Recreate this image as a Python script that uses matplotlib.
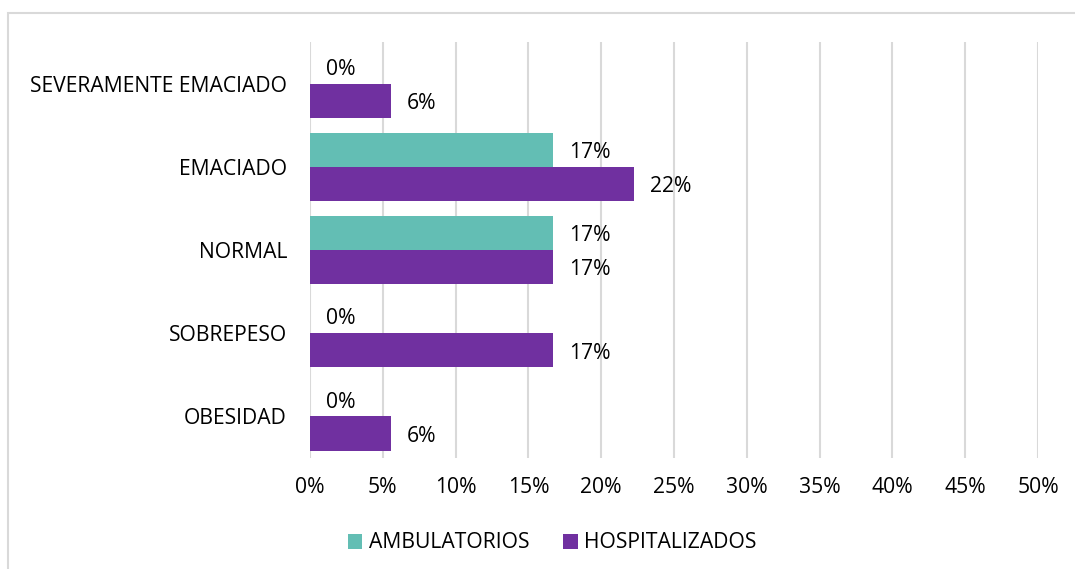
import numpy as np
import matplotlib.pyplot as plt
from matplotlib.patches import Rectangle

plt.rcParams['font.family'] = ['Open Sans', 'DejaVu Sans']

categorias = ['SEVERAMENTE EMACIADO', 'EMACIADO', 'NORMAL', 'SOBREPESO', 'OBESIDAD']
ambulatorios = [0, 1/6, 1/6, 0, 0]
hospitalizados = [1/18, 4/18, 3/18, 3/18, 1/18]
ticks_x = [0, 0.05, 0.10, 0.15, 0.20, 0.25, 0.30, 0.35, 0.40, 0.45, 0.50]

color_amb = '#63beb4'
color_hosp = '#7030a0'
fs = 15.2

fig = plt.figure(figsize=(10.75, 5.69), dpi=100)
ax = fig.add_axes([310/1075, 1 - 458/569, 728/1075, 416/569])

y = np.arange(len(categorias))
h = 0.41
ax.barh(y - h/2, ambulatorios, height=h, color=color_amb, label='AMBULATORIOS', zorder=3)
ax.barh(y + h/2, hospitalizados, height=h, color=color_hosp, label='HOSPITALIZADOS', zorder=3)

# etiquetas de valor al final de cada barra
for yi, v in zip(y - h/2, ambulatorios):
    ax.annotate(f'{v*100:.0f}%', (v, yi), xytext=(11.5, -2), textcoords='offset points',
                va='center', ha='left', fontsize=fs, color='#000000')
for yi, v in zip(y + h/2, hospitalizados):
    ax.annotate(f'{v*100:.0f}%', (v, yi), xytext=(11.5, -2), textcoords='offset points',
                va='center', ha='left', fontsize=fs, color='#000000')

ax.set_xlim(0, 0.5)
ax.set_ylim(len(categorias) - 0.5, -0.5)
ax.set_xticks(ticks_x)
ax.set_xticklabels([f'{t*100:.0f}%' for t in ticks_x], fontsize=fs)
ax.set_yticks(y)
ax.set_yticklabels(categorias, fontsize=fs)
ax.tick_params(axis='y', length=0, pad=16.5)
ax.tick_params(axis='x', length=0, pad=13.5)
ax.grid(axis='x', color='#d9d9d9', linewidth=1.5, zorder=0)
for s in ax.spines.values():
    s.set_visible(False)

ax.legend(loc='center', bbox_to_anchor=(552/1075, 1 - 543/569), bbox_transform=fig.transFigure,
          ncol=2, frameon=False, fontsize=fs, handlelength=0.7, handleheight=0.7,
          handletextpad=0.3, columnspacing=1.6)

fig.patches.append(Rectangle((8/1075, -0.1), 1.2, 1 - 13/569 + 0.1, transform=fig.transFigure,
                             fill=False, edgecolor='#d9d9d9', linewidth=1.5))

fig.savefig('out.png', dpi=100)
